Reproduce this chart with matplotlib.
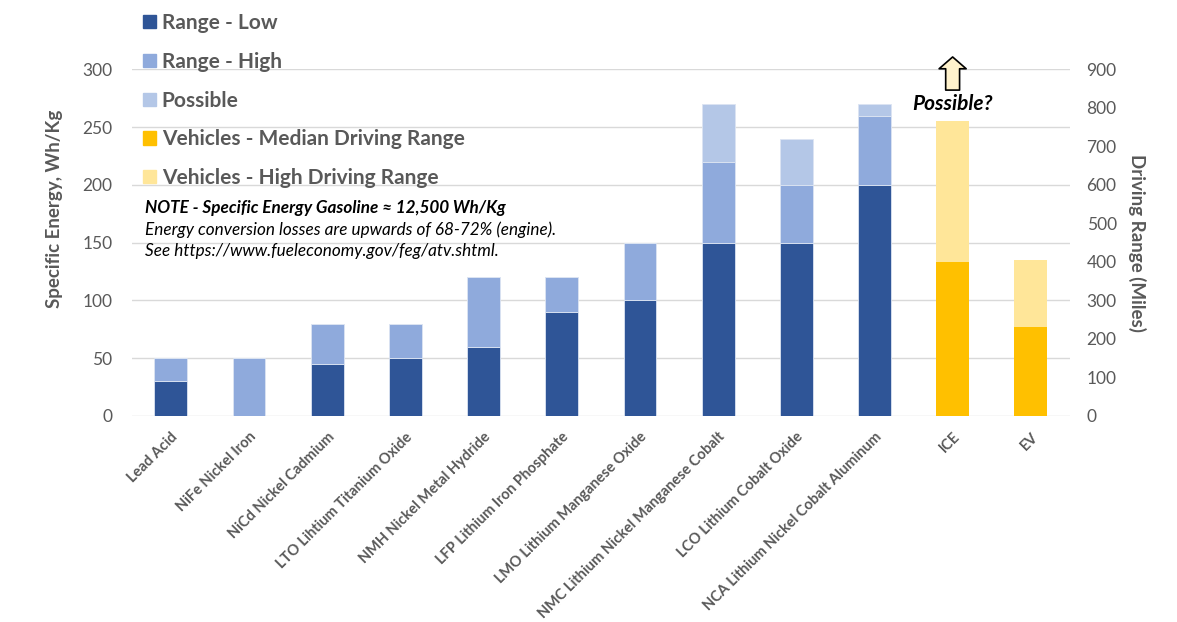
import numpy as np
import matplotlib.pyplot as plt
from matplotlib.patches import Patch

plt.rcParams["font.family"] = ["Lato", "DejaVu Sans"]

categories = [
    "Lead Acid", "NiFe Nickel Iron", "NiCd Nickel Cadmium",
    "LTO Lihtium Titanium Oxide", "NMH Nickel Metal Hydride",
    "LFP Lithium Iron Phosphate", "LMO Lithium Manganese Oxide",
    "NMC Lithium Nickel Manganese Cobalt", "LCO Lithium Cobalt Oxide",
    "NCA Lithium Nickel Cobalt Aluminum", "ICE", "EV",
]
# battery specific energy (Wh/Kg), top of each stacked segment
range_low = [30, 0, 45, 50, 60, 90, 100, 150, 150, 200, 0, 0]
range_high = [50, 50, 80, 80, 120, 120, 150, 220, 200, 260, 0, 0]
possible = [50, 50, 80, 80, 120, 120, 150, 270, 240, 270, 0, 0]
# vehicle driving range (miles)
veh_median = [0, 0, 0, 0, 0, 0, 0, 0, 0, 0, 400, 230]
veh_high = [0, 0, 0, 0, 0, 0, 0, 0, 0, 0, 765, 405]

c_low = "#2F5597"
c_high = "#8FAADC"
c_poss = "#B4C7E7"
c_vmed = "#FFC000"
c_vhigh = "#FFE699"
grey = "#595959"

fig = plt.figure(figsize=(11.77, 6.22), dpi=100)
ax = fig.add_axes([0.112, 0.3312, 0.797, 0.5574])
ax2 = ax.twinx()

x = np.arange(len(categories))
w = 0.42
low = np.array(range_low)
high = np.array(range_high)
poss = np.array(possible)
edge = dict(edgecolor="#dce4f2", linewidth=0.6)

ax.bar(x, low, w, color=c_low, **edge)
ax.bar(x, high - low, w, bottom=low, color=c_high, **edge)
ax.bar(x, poss - high, w, bottom=high, color=c_poss, **edge)

vm = np.array(veh_median)
vh = np.array(veh_high)
ax2.bar(x, vm, w, color=c_vmed, linewidth=0)
ax2.bar(x, vh - vm, w, bottom=vm, color=c_vhigh, linewidth=0)

ax.set_xlim(-0.5, len(categories) - 0.5)
ax.set_ylim(0, 300)
ax2.set_ylim(0, 900)
ax.set_yticks(np.arange(0, 301, 50))
ax2.set_yticks(np.arange(0, 901, 100))
ax.yaxis.grid(True, color="#d9d9d9", linewidth=1)
ax.set_axisbelow(True)

for a in (ax, ax2):
    for s in a.spines.values():
        s.set_visible(False)
    a.tick_params(length=0, labelsize=12.5, labelcolor=grey)
ax.tick_params(axis="y", pad=14)
ax2.tick_params(axis="y", pad=12)

ax.set_xticks(x)
ax.set_xticklabels(categories, rotation=45, ha="right", rotation_mode="anchor")
plt.setp(ax.get_xticklabels(), fontsize=10.5, fontweight="bold", color=grey)
ax.tick_params(axis="x", pad=10)

ax.set_ylabel("Specific Energy, Wh/Kg", fontsize=13.5, fontweight="bold",
              color=grey, labelpad=14)
ax.yaxis.label.set_y(0.598)
ax2.set_ylabel("Driving Range (Miles)", fontsize=13.5, fontweight="bold",
               color=grey, rotation=-90, labelpad=8, va="bottom")

# annotation on ICE
ax2.annotate("", xy=(10, 932), xytext=(10, 846),
             arrowprops=dict(arrowstyle="simple,head_length=0.85,head_width=1.95,tail_width=1.0",
                             fc="#FFF2CC", ec="black", lw=1.2, shrinkA=0, shrinkB=0,
                             mutation_scale=10),
             annotation_clip=False)
ax2.text(10, 810, "Possible?", ha="center", va="center", fontsize=15,
         fontweight="bold", style="italic", color="black")

fig.text(0.123, 0.666, "NOTE - Specific Energy Gasoline \u2248 12,500 Wh/Kg",
         fontsize=12.3, fontweight="bold", style="italic", va="center")
fig.text(0.123, 0.630, "Energy conversion losses are upwards of 68-72% (engine).",
         fontsize=12.3, style="italic", va="center")
fig.text(0.123, 0.596, "See https://www.fueleconomy.gov/feg/atv.shtml.",
         fontsize=12.3, style="italic", va="center")

handles = [
    Patch(color=c_low, label="Range - Low"),
    Patch(color=c_high, label="Range - High"),
    Patch(color=c_poss, label="Possible"),
    Patch(color=c_vmed, label="Vehicles - Median Driving Range"),
    Patch(color=c_vhigh, label="Vehicles - High Driving Range"),
]
leg = fig.legend(handles=handles, loc="upper left", bbox_to_anchor=(0.1215, 0.979),
                 frameon=False, fontsize=15, handlelength=0.6, handleheight=0.6,
                 handletextpad=0.3, labelspacing=0.9, borderpad=0, borderaxespad=0)
for t in leg.get_texts():
    t.set_color(grey)
    t.set_fontweight("bold")

fig.savefig("out.png", dpi=100)
